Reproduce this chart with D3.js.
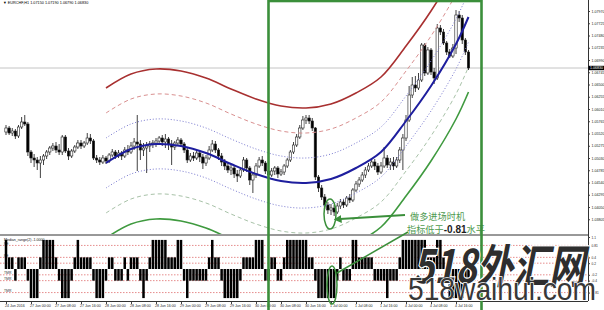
<!DOCTYPE html>
<html>
<head>
<meta charset="utf-8">
<script src="https://cdn.jsdelivr.net/npm/d3@7"></script>
<style>
  body { margin: 0; background: #fff; }
  svg { display: block; font-family: "Liberation Sans", Arial, sans-serif; }
</style>
</head>
<body>
<svg width="604" height="310"></svg>
<script>
// H1 candles (price)
var opens = [1.0555,1.0563,1.0553,1.0557,1.0547,1.0565,1.0575,1.0571,1.0515,1.0503,
  1.0499,1.0493,1.0499,1.0507,1.0515,1.0523,1.0527,1.0519,1.0515,1.0545,
  1.0517,1.0507,1.0517,1.0525,1.0533,1.0527,1.0533,1.0543,1.0537,1.0503,
  1.0499,1.0495,1.0503,1.0497,1.0509,1.0515,1.0507,1.0513,1.0507,1.0519,
  1.0515,1.0527,1.0535,1.0531,1.0519,1.0523,1.0527,1.0531,1.0533,1.0537,
  1.0543,1.0535,1.0541,1.0531,1.0525,1.0533,1.0539,1.0531,1.0519,1.0499,
  1.0507,1.0503,1.0513,1.0505,1.0493,1.0503,1.0519,1.0531,1.0519,1.0507,
  1.0495,1.0487,1.0479,1.0483,1.0471,1.0467,1.0479,1.0499,1.0483,1.0459,
  1.0469,1.0487,1.0499,1.0493,1.0477,1.0469,1.0477,1.0483,1.0471,1.0475,
  1.0487,1.0499,1.0515,1.0529,1.0545,1.0563,1.0579,1.0583,1.0577,1.0563,
  1.0465,1.0443,1.0425,1.0409,1.0399,1.0403,1.0395,1.0407,1.0415,1.0409,
  1.0423,1.0419,1.0439,1.0451,1.0459,1.0469,1.0479,1.0487,1.0495,1.0487,
  1.0475,1.0487,1.0503,1.0489,1.0495,1.0487,1.0499,1.0519,1.0543,1.0579,
  1.0629,1.0649,1.0643,1.0659,1.0729,1.0673,1.0719,1.0675,1.0663,1.0763,
  1.0755,1.0733,1.0715,1.0707,1.0723,1.0789,1.0783,1.0739,1.0715];
var highs = [1.0569,1.0567,1.0563,1.0561,1.0569,1.0585,1.0589,1.0575,1.0519,1.0511,
  1.0505,1.0507,1.0511,1.0519,1.0527,1.0533,1.0535,1.0531,1.0549,1.0549,
  1.0523,1.0521,1.0529,1.0539,1.0539,1.0537,1.0553,1.0551,1.0541,1.0509,
  1.0505,1.0509,1.0507,1.0513,1.0521,1.0519,1.0519,1.0517,1.0525,1.0529,
  1.0535,1.0543,1.0589,1.0539,1.0533,1.0535,1.0537,1.0539,1.0543,1.0547,
  1.0549,1.0551,1.0545,1.0539,1.0537,1.0545,1.0543,1.0535,1.0523,1.0513,
  1.0515,1.0519,1.0517,1.0511,1.0509,1.0527,1.0539,1.0537,1.0523,1.0513,
  1.0501,1.0493,1.0489,1.0487,1.0479,1.0483,1.0505,1.0503,1.0487,1.0475,
  1.0493,1.0505,1.0507,1.0497,1.0483,1.0483,1.0487,1.0487,1.0481,1.0491,
  1.0503,1.0519,1.0535,1.0551,1.0569,1.0587,1.0589,1.0589,1.0583,1.0565,
  1.0469,1.0449,1.0431,1.0415,1.0411,1.0409,1.0413,1.0421,1.0421,1.0427,
  1.0431,1.0443,1.0457,1.0465,1.0475,1.0485,1.0493,1.0503,1.0501,1.0493,
  1.0495,1.0525,1.0509,1.0503,1.0505,1.0505,1.0525,1.0551,1.0589,1.0647,
  1.0665,1.0667,1.0673,1.0733,1.0733,1.0725,1.0723,1.0683,1.0771,1.0769,
  1.0761,1.0737,1.0721,1.0731,1.0799,1.0797,1.0789,1.0743,1.0719];
var lows = [1.0549,1.0549,1.0547,1.0541,1.0543,1.0561,1.0567,1.0507,1.0493,1.0485,
  1.0479,1.0463,1.0489,1.0501,1.0509,1.0517,1.0513,1.0509,1.0509,1.0513,
  1.0499,1.0503,1.0513,1.0521,1.0521,1.0523,1.0529,1.0531,1.0499,1.0493,
  1.0489,1.0491,1.0491,1.0493,1.0505,1.0501,1.0503,1.0499,1.0503,1.0509,
  1.0511,1.0519,1.0477,1.0499,1.0507,1.0473,1.0515,1.0523,1.0525,1.0529,
  1.0527,1.0523,1.0519,1.0489,1.0519,1.0527,1.0525,1.0513,1.0493,1.0495,
  1.0497,1.0499,1.0495,1.0481,1.0487,1.0499,1.0515,1.0513,1.0499,1.0487,
  1.0479,1.0473,1.0469,1.0463,1.0455,1.0463,1.0475,1.0475,1.0449,1.0433,
  1.0463,1.0483,1.0487,1.0471,1.0463,1.0465,1.0469,1.0463,1.0467,1.0469,
  1.0483,1.0495,1.0511,1.0525,1.0541,1.0559,1.0571,1.0571,1.0557,1.0459,
  1.0435,1.0419,1.0401,1.0391,1.0389,1.0387,1.0391,1.0401,1.0403,1.0405,
  1.0413,1.0415,1.0435,1.0445,1.0455,1.0463,1.0475,1.0483,1.0479,1.0469,
  1.0471,1.0483,1.0483,1.0479,1.0479,1.0483,1.0493,1.0479,1.0537,1.0575,
  1.0623,1.0635,1.0639,1.0655,1.0667,1.0669,1.0669,1.0651,1.0659,1.0749,
  1.0729,1.0709,1.0703,1.0703,1.0711,1.0775,1.0731,1.0709,1.0679];
var closes = [1.0563,1.0553,1.0557,1.0547,1.0565,1.0575,1.0571,1.0515,1.0503,1.0499,
  1.0493,1.0499,1.0507,1.0515,1.0523,1.0527,1.0519,1.0515,1.0545,1.0517,
  1.0507,1.0517,1.0525,1.0533,1.0527,1.0533,1.0543,1.0537,1.0503,1.0499,
  1.0495,1.0503,1.0497,1.0509,1.0515,1.0507,1.0513,1.0507,1.0519,1.0515,
  1.0527,1.0535,1.0531,1.0519,1.0523,1.0527,1.0531,1.0533,1.0537,1.0543,
  1.0535,1.0541,1.0531,1.0525,1.0533,1.0539,1.0531,1.0519,1.0499,1.0507,
  1.0503,1.0513,1.0505,1.0493,1.0503,1.0519,1.0531,1.0519,1.0507,1.0495,
  1.0487,1.0479,1.0483,1.0471,1.0467,1.0479,1.0499,1.0483,1.0459,1.0469,
  1.0487,1.0499,1.0493,1.0477,1.0469,1.0477,1.0483,1.0471,1.0475,1.0487,
  1.0499,1.0515,1.0529,1.0545,1.0563,1.0579,1.0583,1.0577,1.0563,1.0465,
  1.0443,1.0425,1.0409,1.0399,1.0403,1.0395,1.0407,1.0415,1.0409,1.0423,
  1.0419,1.0439,1.0451,1.0459,1.0469,1.0479,1.0487,1.0495,1.0487,1.0475,
  1.0487,1.0503,1.0489,1.0495,1.0487,1.0499,1.0519,1.0543,1.0579,1.0629,
  1.0649,1.0643,1.0659,1.0729,1.0673,1.0719,1.0675,1.0663,1.0763,1.0755,
  1.0733,1.0715,1.0707,1.0723,1.0789,1.0783,1.0739,1.0715,1.0683];

// sub-window histogram, one value per candle
var signal = [1,0.4,0.4,-0.4,0.4,0.4,0.4,-0.4,-1,-1,
  -1,0.4,1,1,1,1,0.4,-0.4,-1,-1,
  -1,-0.4,0.4,1,0.4,0.4,0.4,0.4,-0.4,-1,
  -1,-1,-0.4,0.4,0.4,-0.4,-0.4,-0.4,0.4,-0.4,
  0.4,0.4,0.4,-0.4,-1,-0.4,0.4,1,1,1,
  1,1,0.4,0.4,0.4,1,1,-0.4,-1,-0.4,
  -0.4,-0.4,-0.4,-0.4,-0.4,0.4,1,0.4,0.4,-0.4,
  -1,-1,-1,-1,-1,-0.4,0.4,0.4,0.4,0.4,
  1,1,1,-0.4,-0.4,0.4,0.4,-0.4,-0.4,0.4,
  1,1,1,1,1,1,1,0.4,0.4,-0.4,
  -1,-1,-1,-1,-1,-1,-0.4,0.4,-0.4,-0.4,
  -0.4,1,1,0.4,0.4,0.4,0.4,0.4,-0.4,-0.4,
  -0.4,-0.4,-1,-0.4,-0.4,-0.4,0.4,1,1,1,
  1,1,1,1,1,0.4,0.4,0.4,1,1,
  0.4,-0.4,-1,-1,-1,-1,-1,-0.4,-0.4];

// regression channel: centre line read at some bars, plus band width
var centerBars   = [32, 40, 48, 56, 64, 72, 80, 88, 96, 104, 112, 120, 128, 136, 144, 148];
var centerPrices = [1.0493,1.0521,1.0531,1.0527,1.0513,1.0491,1.0471,1.0457,1.0453,1.0461,1.0483,1.0515,1.0577,1.0647,1.0731,1.0785];
var bandLevels = [3, 2, 1, -1, -2, -3, 0];
var bandSigma = 0.0050;

var priceTicks = [1.07970,1.07725,1.07480,1.07235,1.06990,1.06745,1.06500,1.06255,1.06010,
  1.05765,1.05520,1.05275,1.05030,1.04785,1.04540,1.04295,1.04050,1.03805];
var lastPrice = 1.0683;
var labelBars  = [0,8,16,24,32,40,48,56,64,72,80,88,96,104,112,120,128,136,144];
var dateLabels = ["24 Jun 2016","27 Jun 00:00","27 Jun 08:00","27 Jun 16:00","28 Jun 00:00",
  "28 Jun 08:00","28 Jun 16:00","29 Jun 00:00","29 Jun 08:00","29 Jun 16:00","30 Jun 00:00",
  "30 Jun 08:00","30 Jun 16:00","1 Jul 00:00","1 Jul 08:00","1 Jul 16:00","4 Jul 00:00",
  "4 Jul 08:00","4 Jul 16:00"];
var subLevels = [0.81, 0.4, 0.2, -0.2, -0.4, -0.81];
var subLevelNames = ["PE", "PE", "", "TMR", "TMR", "TMR"];
var subTicks = [1.1, 0.81, 0.4, 0.2, -0.2, -0.4, -0.81];

var svg = d3.select("svg");
var mainBottom = 234, subTop = 237, subBottom = 301, axisX = 588;
var green = "#3b8f3b";

var x = d3.scaleLinear().domain([0, closes.length - 1]).range([6, 468.5]);
var y = d3.scaleLinear().domain([1.0351, 1.0819]).range([mainBottom, 0]);
var ySub = d3.scaleLinear().domain([-1.1, 1.1]).range([subBottom, subTop]);
var bars = d3.range(closes.length);

var defs = svg.append("defs");
defs.append("clipPath").attr("id", "clipMain")
  .append("rect").attr("x", 0).attr("y", 0).attr("width", axisX).attr("height", mainBottom);
defs.append("marker").attr("id", "arrow").attr("viewBox", "0 0 10 10")
  .attr("refX", 2).attr("refY", 5).attr("markerWidth", 4).attr("markerHeight", 4)
  .attr("orient", "auto-start-reverse")
  .append("path").attr("d", "M0,0L10,5L0,10z").attr("fill", green);

// title
svg.append("text").attr("x", 3).attr("y", 4).attr("font-size", 3.8).attr("fill", "#000")
  .text("\u25BC EURCHF,H1  1.07150 1.07190 1.06790 1.06830");

// bid line
svg.append("line").attr("x1", 0).attr("x2", axisX)
  .attr("y1", y(lastPrice)).attr("y2", y(lastPrice))
  .attr("stroke", "#c4c4c4").attr("stroke-width", 1);

// candles
var cg = svg.append("g").attr("clip-path", "url(#clipMain)");
cg.selectAll("line.wick").data(bars).join("line").attr("class", "wick")
  .attr("x1", function(i){ return x(i); }).attr("x2", function(i){ return x(i); })
  .attr("y1", function(i){ return y(highs[i]); }).attr("y2", function(i){ return y(lows[i]); })
  .attr("stroke", "#111").attr("stroke-width", 0.8);
cg.selectAll("rect.body").data(bars).join("rect").attr("class", "body")
  .attr("x", function(i){ return x(i) - 1.2; }).attr("width", 2.4)
  .attr("y", function(i){ return y(Math.max(opens[i], closes[i])); })
  .attr("height", function(i){ return Math.max(0.8, Math.abs(y(opens[i]) - y(closes[i]))); })
  .attr("fill", function(i){ return closes[i] >= opens[i] ? "#fff" : "#000"; })
  .attr("stroke", "#222").attr("stroke-width", 0.6);

// regression bands
var bandStyle = {
  "3":  {c: "#a83030", w: 1.6, d: null},
  "2":  {c: "#d99090", w: 1,   d: "4,3"},
  "1":  {c: "#7a7ad0", w: 1,   d: "1,2"},
  "0":  {c: "#1e1e9e", w: 2,   d: null},
  "-1": {c: "#7a7ad0", w: 1,   d: "1,2"},
  "-2": {c: "#a8c2a8", w: 1,   d: "4,3"},
  "-3": {c: "#3f9a3f", w: 1.6, d: null}
};
var bandLine = d3.line()
  .x(function(d){ return x(d[0]); })
  .y(function(d){ return y(d[1]); })
  .curve(d3.curveCatmullRom);
bandLevels.forEach(function(k){
  var pts = centerBars.map(function(b, j){ return [b, centerPrices[j] + k * bandSigma]; });
  var st = bandStyle[String(k)];
  cg.append("path").attr("d", bandLine(pts)).attr("fill", "none")
    .attr("stroke", st.c).attr("stroke-width", st.w)
    .attr("stroke-dasharray", st.d);
});

// price axis
var yAxis = d3.axisRight(y).tickValues(priceTicks).tickFormat(d3.format(".5f")).tickSize(2);
var ya = svg.append("g").attr("transform", "translate(" + axisX + ",0)").call(yAxis);
ya.select(".domain").remove();
ya.selectAll("text").attr("font-size", 3.6).attr("x", 3.5).attr("fill", "#222");
ya.selectAll("line").attr("stroke", "#444");

svg.append("line").attr("x1", axisX + 0.5).attr("x2", axisX + 0.5).attr("y1", 0).attr("y2", subBottom)
  .attr("stroke", "#333").attr("stroke-width", 1);

svg.append("rect").attr("x", axisX + 0.5).attr("y", y(lastPrice) - 2.2)
  .attr("width", 15.5).attr("height", 4.4).attr("fill", "#000");
svg.append("text").attr("x", axisX + 2).attr("y", y(lastPrice) + 1.3)
  .attr("font-size", 3.6).attr("fill", "#fff").text(d3.format(".5f")(lastPrice));

// window separators
svg.append("line").attr("x1", 0).attr("x2", axisX).attr("y1", mainBottom + 1).attr("y2", mainBottom + 1)
  .attr("stroke", "#333").attr("stroke-width", 1);
svg.append("line").attr("x1", 0).attr("x2", axisX).attr("y1", subBottom + 0.5).attr("y2", subBottom + 0.5)
  .attr("stroke", "#333").attr("stroke-width", 1);

// sub-window levels
var sg = svg.append("g");
sg.selectAll("line.lvl").data(subLevels).join("line").attr("class", "lvl")
  .attr("x1", 0).attr("x2", axisX)
  .attr("y1", function(d){ return ySub(d); }).attr("y2", function(d){ return ySub(d); })
  .attr("stroke", "#e07070").attr("stroke-width", 0.8).attr("stroke-dasharray", "1.5,1.5");
sg.selectAll("text.lvl").data(subLevels).join("text").attr("class", "lvl")
  .attr("x", 4).attr("y", function(d){ return ySub(d) - 0.8; })
  .attr("font-size", 3.4).attr("fill", "#333")
  .text(function(d, j){ return subLevelNames[j]; });

// histogram
sg.selectAll("rect.hist").data(bars).join("rect").attr("class", "hist")
  .attr("x", function(i){ return x(i) - 1.25; }).attr("width", 2.5)
  .attr("y", function(i){ return ySub(Math.max(0, signal[i])); })
  .attr("height", function(i){ return Math.abs(ySub(signal[i]) - ySub(0)); })
  .attr("fill", "#000");

sg.append("text").attr("x", 4).attr("y", subTop + 3.5).attr("font-size", 3.6).attr("fill", "#111")
  .text("Median_range(2) -1.0000");

var subAxis = d3.axisRight(ySub).tickValues(subTicks).tickFormat(function(d){ return String(d); }).tickSize(2);
var sa = svg.append("g").attr("transform", "translate(" + axisX + ",0)").call(subAxis);
sa.select(".domain").remove();
sa.selectAll("text").attr("font-size", 3.2).attr("x", 3.5).attr("fill", "#222");
sa.selectAll("line").attr("stroke", "#444");

// time axis
var xAxis = d3.axisBottom(x).tickValues(labelBars)
  .tickFormat(function(d, j){ return dateLabels[j]; }).tickSize(2);
var xa = svg.append("g").attr("transform", "translate(0," + (subBottom + 1) + ")").call(xAxis);
xa.select(".domain").remove();
xa.selectAll("text").attr("font-size", 3.6).attr("text-anchor", "start")
  .attr("dx", -1.5).attr("y", 4).attr("dy", "0.3em").attr("fill", "#222");
xa.selectAll("line").attr("stroke", "#444");

// annotations
var ann = svg.append("g");
ann.append("ellipse").attr("cx", 330).attr("cy", 214).attr("rx", 6).attr("ry", 15)
  .attr("fill", "none").attr("stroke", green).attr("stroke-width", 1.5);
ann.append("line").attr("x1", 405).attr("y1", 215).attr("x2", 340).attr("y2", 219)
  .attr("stroke", green).attr("stroke-width", 2).attr("marker-end", "url(#arrow)");
ann.append("ellipse").attr("cx", 332).attr("cy", 285).attr("rx", 5).attr("ry", 19)
  .attr("fill", "none").attr("stroke", green).attr("stroke-width", 1.5);
ann.append("line").attr("x1", 337).attr("y1", 273).attr("x2", 408).attr("y2", 232)
  .attr("stroke", green).attr("stroke-width", 1.5);

var cjk = "'Noto Sans CJK SC', sans-serif";
ann.append("text").attr("x", 410).attr("y", 219.5).attr("font-size", 9.2)
  .attr("font-family", cjk).attr("fill", "#4f9a4f").text("做多进场时机");
var t2 = ann.append("text").attr("x", 407).attr("y", 232.5).attr("font-size", 9.2)
  .attr("font-family", cjk).attr("fill", "#4f9a4f");
t2.append("tspan").text("指标低于");
t2.append("tspan").attr("font-weight", "bold").attr("fill", "#1d1d1d")
  .attr("font-family", "'Liberation Sans', sans-serif").attr("font-size", 10).text("-0.81");
t2.append("tspan").text("水平");

// highlight box
svg.append("rect").attr("x", 268.5).attr("y", 1).attr("width", 213).attr("height", 320)
  .attr("fill", "none").attr("stroke", green).attr("stroke-width", 2.6);

// watermark
svg.append("text").attr("x", 413).attr("y", 283).attr("font-size", 46)
  .attr("font-family", cjk).attr("font-weight", "bold").attr("font-style", "italic")
  .attr("textLength", 172).attr("lengthAdjust", "spacingAndGlyphs")
  .attr("fill", "#2e2e2e").attr("stroke", "#fff").attr("stroke-width", 2.5)
  .attr("paint-order", "stroke").text("518外汇网");
svg.append("text").attr("x", 408).attr("y", 300).attr("font-size", 32)
  .attr("font-family", "'Liberation Sans', sans-serif")
  .attr("textLength", 188).attr("lengthAdjust", "spacingAndGlyphs")
  .attr("fill", "#383838").attr("stroke", "#fff").attr("stroke-width", 1.5)
  .attr("paint-order", "stroke").text("518waihui.com");
</script>
</body>
</html>
